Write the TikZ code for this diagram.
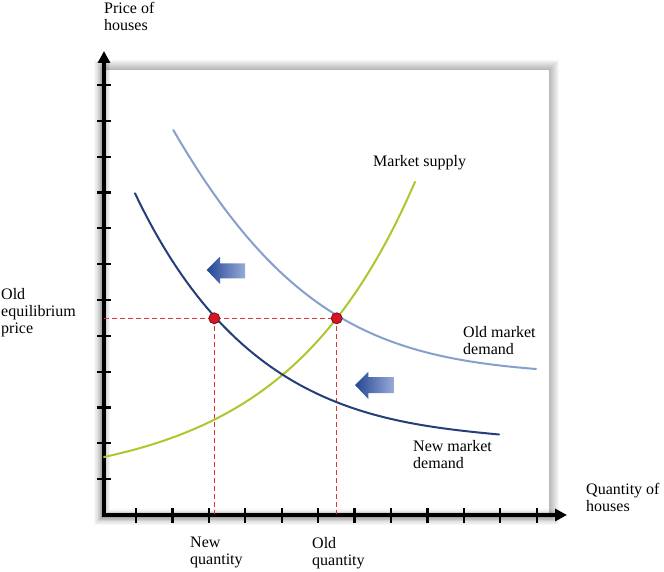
\documentclass[tikz,border=0pt]{standalone}
\usepackage{fontspec}
\setmainfont{Liberation Serif}
\usetikzlibrary{arrows.meta}
\definecolor{supplyc}{RGB}{172,200,48}
\definecolor{olddem}{RGB}{134,160,206}
\definecolor{newdem}{RGB}{36,62,122}
\definecolor{dashc}{RGB}{222,52,52}
\definecolor{dotc}{RGB}{214,20,36}
\definecolor{arrowdark}{RGB}{36,70,148}
\definecolor{arrowlight}{RGB}{150,170,215}
\begin{document}
\begin{tikzpicture}[x=1pt,y=-1pt,
  lbl/.style={font=\fontsize{16}{17}\selectfont, align=left, anchor=north west, inner sep=0pt},
  curve/.style={line width=2pt, line cap=round},
  guide/.style={dashc, line width=1pt, dash pattern=on 5pt off 3pt},
  eqdot/.style={circle, fill=dotc, draw=dotc!60!black, line width=0.8pt, minimum size=11pt, inner sep=0pt},
  axisline/.style={line width=3.5pt, -{Triangle[length=12pt,width=12pt]}},
  tickmark/.style={line width=2.2pt},
  shiftarrow/.style={left color=arrowdark, right color=arrowlight}
]
\useasboundingbox (0,0) rectangle (664,572);

% panel with soft shadow
\foreach \d in {1,...,10}
  \fill[black,opacity=0.03] ({104-\d},{70-\d}) rectangle ({549+\d},{515+\d});
\fill[white] (104,70) rectangle (549,515);
\draw[gray!55, line width=1pt] (104,70) -- (549,70) -- (549,515);

% axes shadow
\foreach \w/\o in {12/0.04,9/0.06,6/0.08}
  \draw[line width=\w pt, black, opacity=\o] (104,62) -- (104,515) -- (560,515);

\coordinate (O) at (104,515);
\coordinate (ytop) at (104,51);
\coordinate (xend) at (567,515);
\draw[axisline] (O) -- (ytop);
\draw[axisline] (O) -- (xend);
\draw[line width=3.5pt] (104,517) -- (104,513);

\foreach \k in {1,...,12}
  \draw[tickmark] (97,{515-35.83*\k}) -- (111,{515-35.83*\k});
\foreach \k in {1,...,12}
  \draw[tickmark] ({136+36.43*(\k-1)},508) -- ({136+36.43*(\k-1)},523);

% equilibrium points and guides
\coordinate (e1) at (214.3,318.3);
\coordinate (e2) at (336.7,318.3);
\coordinate (pAxis) at (104,318.3);
\coordinate (qNew) at (214.3,514);
\coordinate (qOld) at (336.7,514);
\draw[guide] (pAxis) -- (e1) -- (e2);
\draw[guide] (e1) -- (qNew);
\draw[guide] (e2) -- (qOld);

% curves
\draw[curve, supplyc] plot[domain=104:415, samples=80, smooth]
  (\x, {515 - (29.71 + 28.29*exp(0.00763*(\x-104)))});
\coordinate (od0) at (173.3,130);
\coordinate (od1) at (536,369);
\draw[curve, olddem] (od0) .. controls (285,323) and (386,357) .. (od1);
\coordinate (nd0) at (135,193.3);
\coordinate (nd1) at (499,434.5);
\draw[curve, newdem] (nd0) .. controls (235,403.3) and (369,422.3) .. (nd1);

\node[eqdot] (newEq) at (e1) {};
\node[eqdot] (oldEq) at (e2) {};

% shift arrows
\shade[shiftarrow] (206.7,270) -- (220,256.7) -- (220,263.3) -- (245,263.3) -- (245,278.3)
  -- (220,278.3) -- (220,284) -- cycle;
\shade[shiftarrow] (355,385) -- (368.3,371.7) -- (368.3,377) -- (393.3,377) -- (393.3,393)
  -- (368.3,393) -- (368.3,399) -- cycle;

% labels
\node[lbl] (ylab) at (104,2) {Price of\\houses};
\node[lbl] (plab) at (1,288) {Old\\equilibrium\\price};
\node[lbl] (slab) at (373,155) {Market supply};
\node[lbl] (odlab) at (463,326) {Old market\\demand};
\node[lbl] (ndlab) at (413,440) {New market\\demand};
\node[lbl] (xlab) at (586,483) {Quantity of\\houses};
\node[lbl] (nqlab) at (190,537) {New\\quantity};
\node[lbl] (oqlab) at (312,537) {Old\\quantity};
\end{tikzpicture}
\end{document}
